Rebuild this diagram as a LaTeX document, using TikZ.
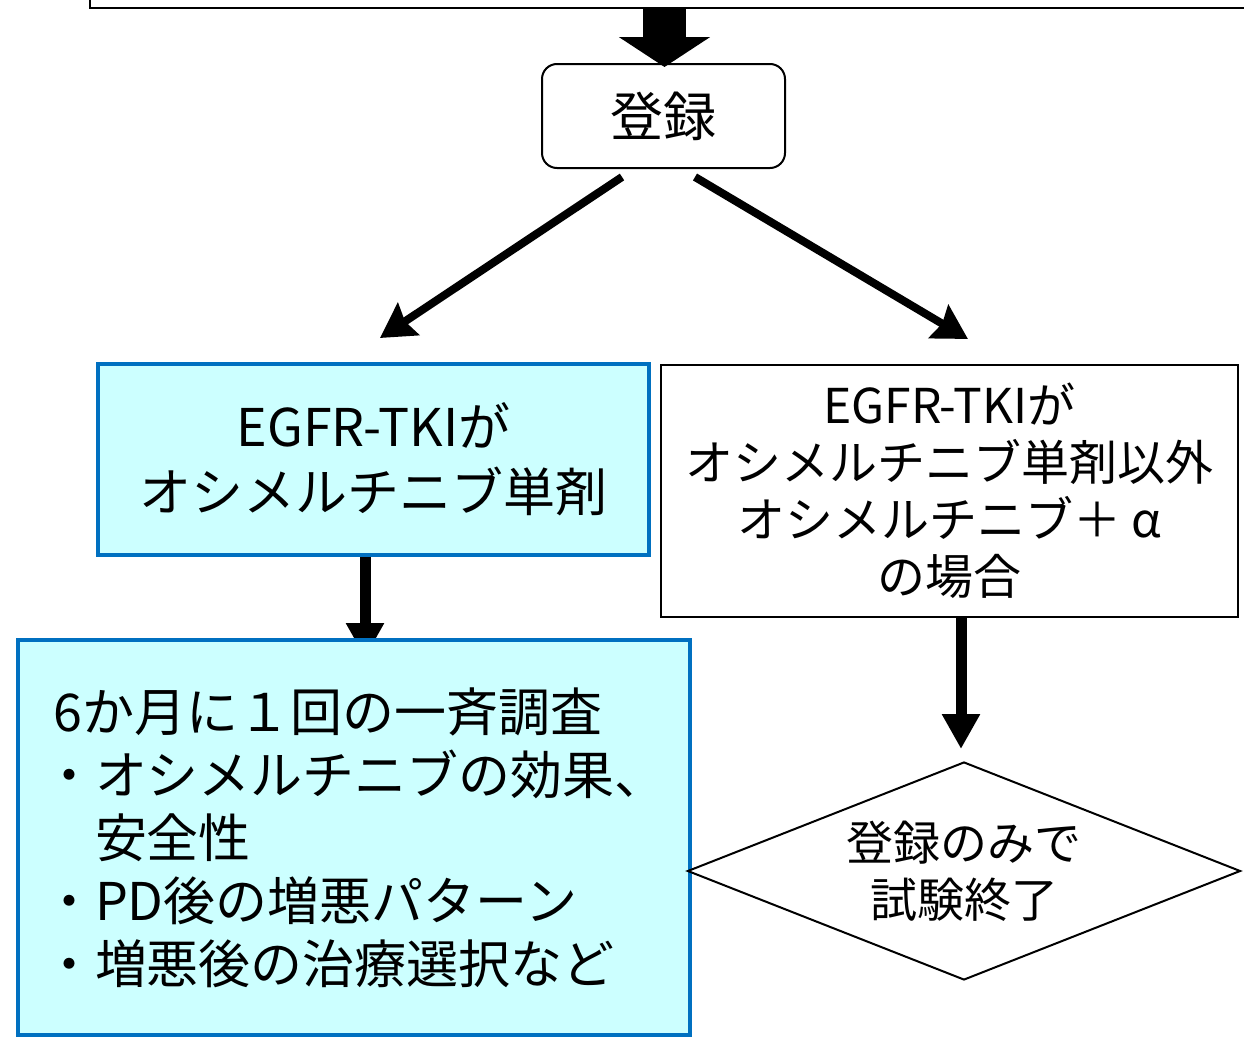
\documentclass[tikz,border=0pt]{standalone}
\usepackage{fontspec}
\setmainfont{Noto Sans CJK JP}
\usepackage{tikz}
\usetikzlibrary{arrows.meta}
\usetikzlibrary{positioning,shapes.geometric,backgrounds}
\definecolor{boxblue}{HTML}{0070C0}
\definecolor{boxcyan}{HTML}{CCFFFF}

\begin{document}
\begin{tikzpicture}[x=0.5pt,y=-0.5pt]
		\tikzstyle{plain} = [draw, line width=1pt, fill=white, align=center, inner sep=0pt]
		\tikzstyle{cyanbox} = [draw=boxblue, line width=2pt, fill=boxcyan, inner sep=0pt]
		\tikzstyle{fat} = [line width=5.5pt, -{Triangle[length=17.5pt,width=18pt]}]
		\tikzstyle{slant} = [line width=4pt, -{Stealth[length=17pt,width=19pt,inset=2pt]}]
		\useasboundingbox (0,0) rectangle (1244,1039);

		\node[plain, minimum width=590pt, minimum height=19pt] (top) at (680,-11) {};
		\node[plain, rounded corners=7.5pt, minimum width=121.5pt, minimum height=52pt,
			font=\fontsize{26.5}{32}\selectfont] (reg) at (663.5,116) {登録};
		\node[cyanbox, minimum width=275.5pt, minimum height=95.5pt, align=center,
			font=\fontsize{26}{32.5}\selectfont] (single) at (373.5,459.5)
			{EGFR-TKIが\\オシメルチニブ単剤};
		\node[plain, minimum width=288.5pt, minimum height=126pt,
			font=\fontsize{24}{28.5}\selectfont] (other) at (949.5,491)
			{EGFR-TKIが\\オシメルチニブ単剤以外\\オシメルチニブ＋ α\\の場合};
		\node[cyanbox, minimum width=336pt, minimum height=197.5pt, text width=300pt, align=left,
			font=\fontsize{26}{31.5}\selectfont] (survey) at (354,837.5)
			{6か月に１回の一斉調査\\
			\hspace*{-5.5pt}・オシメルチニブの効果、\\
			\hspace*{-5.5pt}　安全性\\
			\hspace*{-5.5pt}・PD後の増悪パターン\\
			\hspace*{-5.5pt}・増悪後の治療選択など};
		\node[plain, diamond, aspect=2.5, minimum width=276.5pt, minimum height=109pt,
			font=\fontsize{23.5}{28.5}\selectfont] (stop) at (964,871) {登録のみで\\試験終了};

		\draw [line width=21.5pt, -{Triangle[length=15pt,width=45pt]}] ([xshift=-7.75pt]top.south) -- ([xshift=0.5pt,yshift=-2pt]reg.north);
		\draw [slant] ([xshift=-20.75pt,yshift=-4pt]reg.south) -- ([xshift=3.25pt,yshift=12pt]single.north);
		\draw [slant] ([xshift=15.75pt,yshift=-4pt]reg.south) -- ([xshift=9.25pt,yshift=12.5pt]other.north);
		\begin{scope}[on background layer]
			\draw [fat] ([xshift=-4.25pt]single.south) -- ([xshift=5.5pt,yshift=-10pt]survey.north);
		\end{scope}
		\draw [fat] ([xshift=5.75pt]other.south) -- ([xshift=-1.5pt,yshift=6pt]stop.north);

\end{tikzpicture}
\end{document}
